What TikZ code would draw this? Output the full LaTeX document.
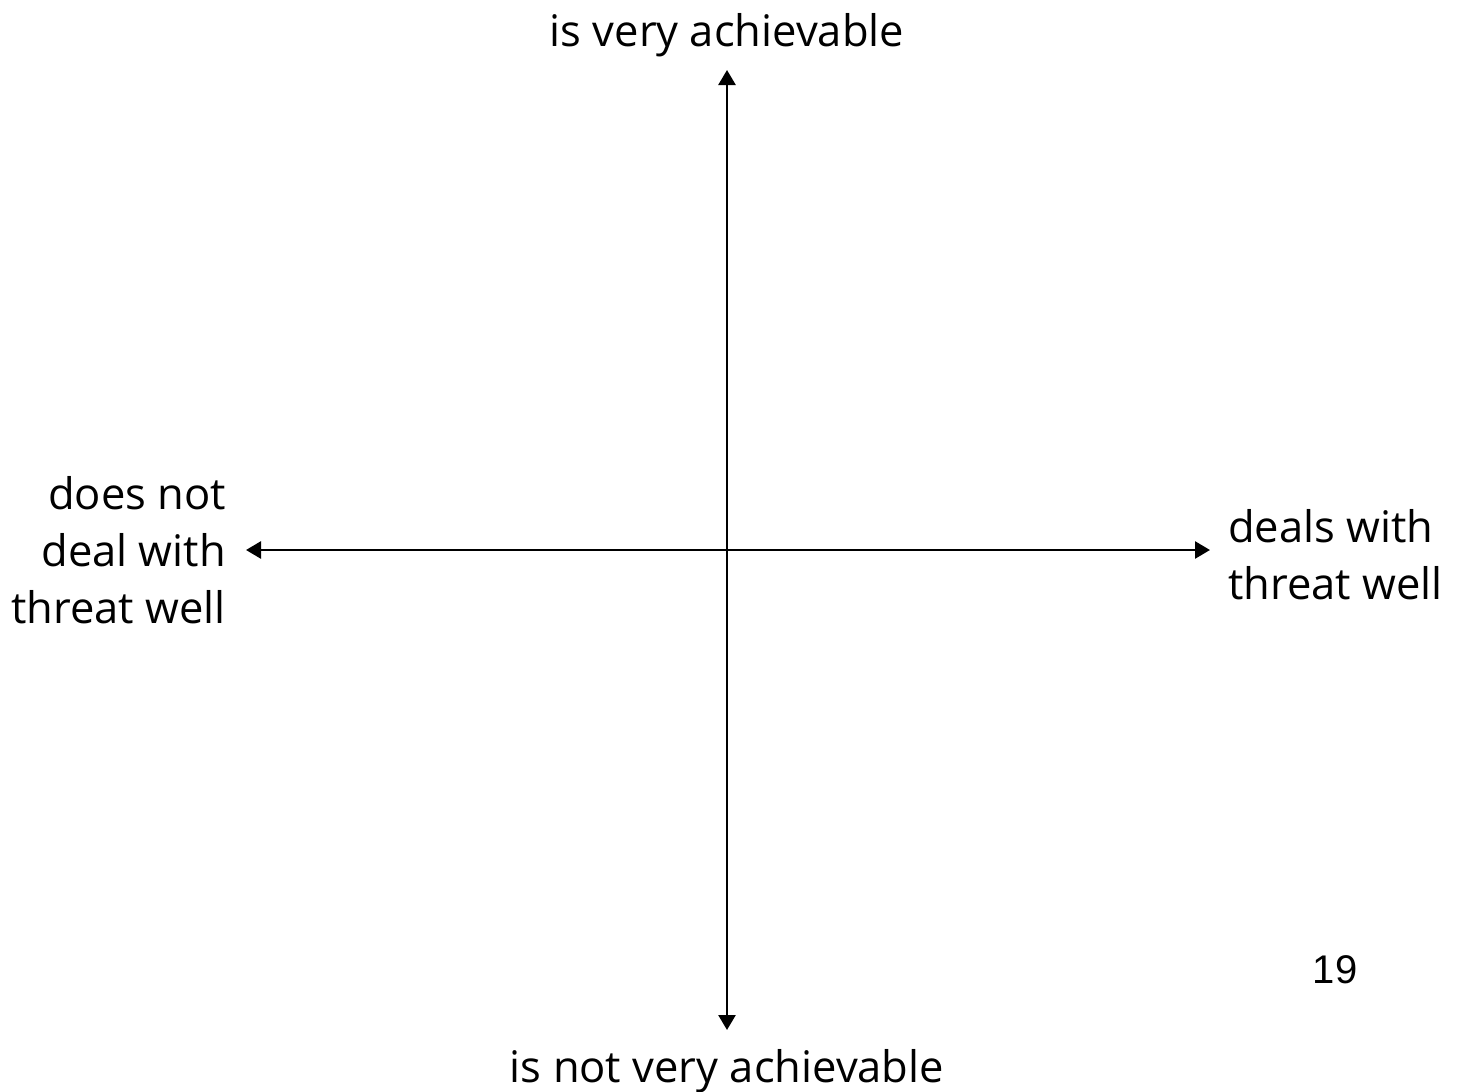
\documentclass[tikz,border=0pt]{standalone}
\usepackage{fontspec}
\setmainfont{Open Sans}
\newfontfamily\numfont{Liberation Sans}
\usetikzlibrary{arrows.meta}
\begin{document}
\begin{tikzpicture}[x=1pt,y=-1pt,
  axis/.style={line width=2.6pt,{Triangle[length=15pt,width=17pt]}-{Triangle[length=15pt,width=17pt]}},
  lbl/.style={font=\fontsize{43.5}{57}\selectfont,inner sep=0pt,align=center}]
\useasboundingbox (0,0) rectangle (1465,1092);
\coordinate (top) at (727,70);
\coordinate (bot) at (727,1030);
\coordinate (lft) at (246,550);
\coordinate (rgt) at (1210,550);
\draw[axis] (bot) -- (top);
\draw[axis] (lft) -- (rgt);
\node[lbl,anchor=base] (tl) at (727,46) {is very achievable};
\node[lbl,anchor=base] (bl) at (727,1082) {is not very achievable};
\node[lbl,align=right,anchor=base east] (ll) at (226,623) {does not\\deal with\\threat well};
\node[lbl,align=left,anchor=base west] (rl) at (1228,599) {deals with\\threat well};
\node[font=\numfont\fontsize{40}{48}\selectfont,inner sep=0pt,anchor=base] (pg) at (1335,983) {19};
\end{tikzpicture}
\end{document}
